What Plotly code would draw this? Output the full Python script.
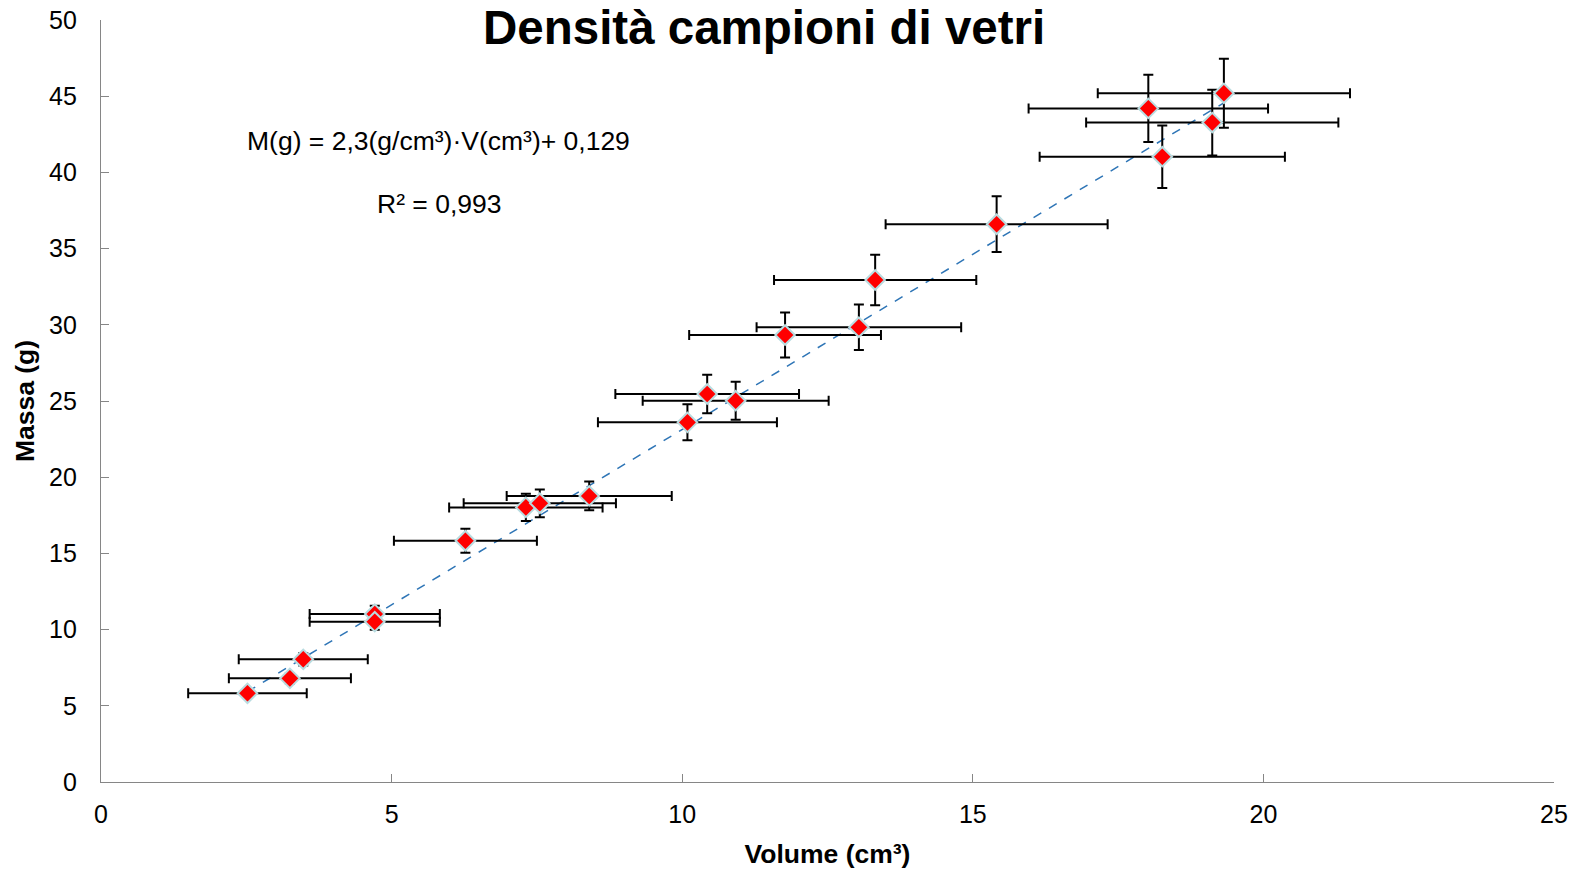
import plotly.graph_objects as go

# Data
volume = [2.52, 3.25, 3.48, 4.71, 4.71, 6.27, 7.31, 7.55, 8.40, 10.09,
          10.43, 10.92, 11.77, 13.04, 13.32, 15.41, 18.02, 19.32, 19.12, 18.26]
mass = [5.82, 6.80, 8.05, 11.02, 10.52, 15.83, 18.02, 18.29, 18.77, 23.60,
        25.46, 25.02, 29.33, 29.84, 32.94, 36.60, 44.20, 45.19, 43.27, 41.03]
volume_err = [1.02, 1.05, 1.11, 1.12, 1.12, 1.23, 1.32, 1.31, 1.42, 1.54,
              1.58, 1.60, 1.65, 1.76, 1.74, 1.91, 2.06, 2.17, 2.17, 2.11]
mass_err = [0.29, 0.34, 0.40, 0.55, 0.53, 0.79, 0.90, 0.91, 0.94, 1.18,
            1.27, 1.25, 1.47, 1.49, 1.65, 1.83, 2.21, 2.26, 2.16, 2.05]

slope = 2.3
intercept = 0.129
r2_text = "R² = 0,993"
eq_text = "M(g) = 2,3(g/cm³)·V(cm³)+ 0,129"

x_ticks = [0, 5, 10, 15, 20, 25]
y_ticks = [0, 5, 10, 15, 20, 25, 30, 35, 40, 45, 50]

FONT = "Liberation Sans, Arial, sans-serif"

x_lo, x_hi = min(volume), max(volume)
trend_x = [x_lo, x_hi]
trend_y = [slope * v + intercept for v in trend_x]

fig = go.Figure()
fig.add_trace(go.Scatter(
    x=trend_x, y=trend_y, mode="lines",
    line=dict(color="#2E75B6", width=1.5, dash="dash"),
    hoverinfo="skip", showlegend=False))
fig.add_trace(go.Scatter(
    x=volume, y=mass, mode="markers",
    marker=dict(symbol="diamond", size=15, color="#FF0000",
                line=dict(color="#B9DCE0", width=2)),
    error_x=dict(type="data", array=volume_err, visible=True,
                 color="black", thickness=2, width=5),
    error_y=dict(type="data", array=mass_err, visible=True,
                 color="black", thickness=2, width=5),
    showlegend=False))

axis_common = dict(
    showgrid=False, zeroline=False, showline=True, linecolor="#868686",
    linewidth=1.3, ticks="inside", ticklen=8, tickcolor="#868686",
    tickwidth=1.3, tickfont=dict(family=FONT, size=25, color="black"),
    automargin=False,
)
fig.update_xaxes(range=[0, 25], tickvals=x_ticks, ticklabelstandoff=10,
                 title=dict(text="<b>Volume (cm³)</b>",
                            font=dict(family=FONT, size=26.5, color="black"),
                            standoff=17),
                 **axis_common)
fig.update_yaxes(range=[0, 50], tickvals=y_ticks, ticklabelstandoff=18,
                 title=dict(text="<b>Massa (g)</b>",
                            font=dict(family=FONT, size=26.5, color="black"),
                            standoff=6),
                 **axis_common)

fig.add_annotation(x=0.4566, y=0.990, xref="paper", yref="paper",
                   text="<b>Densità campioni di vetri</b>", showarrow=False,
                   font=dict(family=FONT, size=47.5, color="black"),
                   xanchor="center", yanchor="middle")
fig.add_annotation(x=5.81, y=42.06, xref="x", yref="y", text=eq_text,
                   showarrow=False, font=dict(family=FONT, size=26.5, color="black"),
                   xanchor="center", yanchor="middle")
fig.add_annotation(x=5.81, y=37.93, xref="x", yref="y", text=r2_text,
                   showarrow=False, font=dict(family=FONT, size=26.5, color="black"),
                   xanchor="center", yanchor="middle")

fig.update_layout(
    width=1584, height=869,
    margin=dict(l=101, r=30, t=20, b=87, autoexpand=False),
    paper_bgcolor="white", plot_bgcolor="white",
    font=dict(family=FONT, color="black"),
)
fig.write_html("out.html",
               config={"displayModeBar": False},
               post_script="document.body.style.margin='0px';"
                           "document.body.style.overflow='hidden';")
